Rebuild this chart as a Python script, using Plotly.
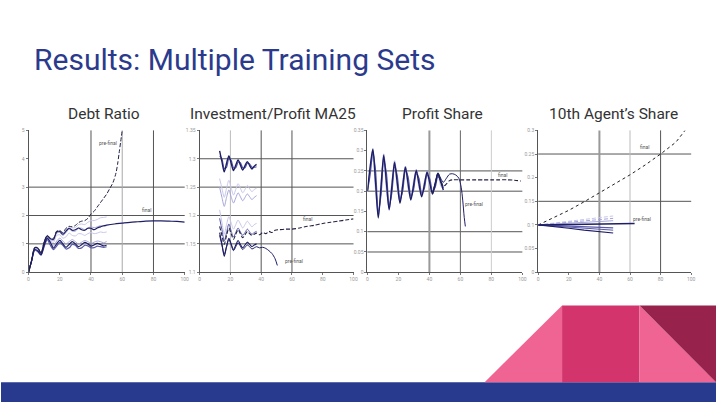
import plotly.graph_objects as go

W, H = 720, 405


def px(x):
    return x / W


def py(y):
    return 1 - y / H


# ---------------- DATA ----------------
titles = ["Debt Ratio", "Investment/Profit MA25", "Profit Share", "10th Agent’s Share"]

# Chart 1: Debt Ratio
db_x = [0, 2, 4, 6, 8, 10, 12, 14, 16, 18, 20, 22, 24, 26, 28, 30, 32, 34, 36, 38, 40, 42, 44, 46, 48, 50]
db_l1 = [0, 0.4, 0.85, 0.84, 0.67, 1.04, 1.27, 1.18, 1.18, 1.42, 1.45, 1.38, 1.5, 1.6, 1.56, 1.58, 1.68, 1.7, 1.68, 1.76, 1.82, 1.82, 1.86, 1.92, 1.93, 1.95]
db_l2 = [0, 0.4, 0.84, 0.82, 0.66, 1.02, 1.26, 1.15, 1.12, 1.38, 1.4, 1.3, 1.4, 1.52, 1.45, 1.45, 1.55, 1.55, 1.5, 1.56, 1.6, 1.57, 1.6, 1.64, 1.62, 1.64]
db_l3 = [0, 0.4, 0.82, 0.8, 0.64, 1.0, 1.24, 1.12, 1.05, 1.3, 1.32, 1.2, 1.25, 1.38, 1.3, 1.28, 1.36, 1.35, 1.3, 1.36, 1.4, 1.36, 1.38, 1.42, 1.4, 1.42]
db_l4 = [0, 0.4, 0.8, 0.78, 0.62, 0.98, 1.22, 1.08, 0.92, 1.1, 1.2, 1.1, 1.0, 1.08, 1.15, 1.08, 1.0, 1.06, 1.12, 1.08, 1.02, 1.06, 1.1, 1.08, 1.04, 1.08]
db_l5 = [0, 0.4, 0.8, 0.75, 0.62, 0.95, 1.2, 1.05, 0.85, 1.0, 1.12, 1.0, 0.88, 0.98, 1.08, 1.0, 0.9, 0.97, 1.05, 1.0, 0.92, 0.96, 1.02, 0.98, 0.93, 0.95]
db_l6 = [0, 0.4, 0.78, 0.72, 0.6, 0.9, 1.15, 0.95, 0.8, 0.92, 1.05, 0.95, 0.82, 0.86, 0.98, 0.95, 0.84, 0.86, 0.95, 0.93, 0.86, 0.87, 0.92, 0.9, 0.88, 0.9]
db_fin_x = db_x + [55, 60, 65, 70, 75, 80, 85, 90, 95, 100]
db_fin = [0, 0.42, 0.86, 0.85, 0.66, 1.05, 1.28, 1.18, 1.16, 1.42, 1.44, 1.34, 1.45, 1.55, 1.48, 1.5, 1.56, 1.5, 1.48, 1.55, 1.55, 1.5, 1.56, 1.6, 1.64, 1.66,
          1.7, 1.73, 1.76, 1.78, 1.8, 1.81, 1.81, 1.8, 1.79, 1.77]
db_pre_x = db_x + [52, 54, 56, 57, 58, 59, 60]
db_pre = [0, 0.42, 0.87, 0.86, 0.68, 1.06, 1.3, 1.2, 1.2, 1.45, 1.47, 1.4, 1.55, 1.62, 1.6, 1.65, 1.75, 1.8, 1.82, 1.9, 2.05, 2.15, 2.3, 2.45, 2.6, 2.75,
          2.95, 3.15, 3.5, 3.8, 4.2, 4.6, 5.0]
db_yticks = [0, 1, 2, 3, 4, 5]

# Chart 2: Investment/Profit MA25
ip_x = [13, 14.5, 16, 17.5, 19, 20.5, 22, 23.5, 25, 26.5, 28, 29.5, 31, 32.5, 34, 35.5, 37]
ip_t1 = [1.314, 1.295, 1.277, 1.292, 1.305, 1.292, 1.279, 1.289, 1.298, 1.289, 1.280, 1.288, 1.295, 1.288, 1.282, 1.287, 1.290]
ip_t2 = [1.305, 1.300, 1.283, 1.285, 1.300, 1.297, 1.284, 1.284, 1.294, 1.293, 1.284, 1.284, 1.292, 1.291, 1.285, 1.285, 1.286]
ip_m1 = [1.265, 1.248, 1.232, 1.248, 1.262, 1.249, 1.236, 1.246, 1.256, 1.248, 1.240, 1.246, 1.253, 1.247, 1.242, 1.246, 1.248]
ip_m2 = [1.250, 1.232, 1.216, 1.232, 1.245, 1.233, 1.222, 1.231, 1.240, 1.233, 1.226, 1.232, 1.238, 1.233, 1.228, 1.232, 1.235]
ip_la = [1.210, 1.188, 1.167, 1.184, 1.198, 1.187, 1.176, 1.184, 1.192, 1.185, 1.178, 1.184, 1.190, 1.185, 1.180, 1.184, 1.186]
ip_lb = [1.195, 1.175, 1.155, 1.170, 1.185, 1.173, 1.162, 1.170, 1.178, 1.171, 1.165, 1.170, 1.176, 1.171, 1.167, 1.170, 1.172]
ip_lc = [1.170, 1.150, 1.128, 1.145, 1.160, 1.150, 1.140, 1.148, 1.156, 1.149, 1.143, 1.148, 1.153, 1.149, 1.145, 1.148, 1.150]
ip_fin_x = ip_x + [39, 41, 43, 45, 47, 49, 52, 56, 60, 65, 70, 75, 80, 85, 90, 95, 100]
ip_fin = [1.181, 1.165, 1.149, 1.165, 1.178, 1.168, 1.158, 1.167, 1.175, 1.168, 1.161, 1.166, 1.172, 1.168, 1.165, 1.167, 1.169,
          1.166, 1.170, 1.168, 1.172, 1.170, 1.174, 1.175, 1.176, 1.176, 1.178, 1.181, 1.183, 1.186, 1.188, 1.190, 1.192, 1.194]
ip_pre_x = ip_x + [39, 41, 43, 45, 47, 49, 50.5]
ip_pre = [1.165, 1.148, 1.132, 1.145, 1.158, 1.148, 1.138, 1.145, 1.152, 1.146, 1.140, 1.144, 1.148, 1.145, 1.141, 1.143, 1.145,
          1.143, 1.144, 1.142, 1.138, 1.133, 1.124, 1.112]
ip_yticks = [1.1, 1.15, 1.2, 1.25, 1.3, 1.35]

# Chart 3: Profit Share
ps_x = [0, 1.75, 3.5, 5.25, 7, 8.75, 10.5, 12.25, 14, 15.75, 17.5, 19.25, 21, 22.75, 24.5, 26.25, 28, 29.75, 31.5, 33.25, 35, 36.75, 38.5, 40.25, 42, 43.75, 45.5, 47.25, 49]
ps_p1 = [0.2, 0.26, 0.304, 0.22, 0.134, 0.21, 0.288, 0.221, 0.154, 0.212, 0.271, 0.22, 0.170, 0.214, 0.259, 0.218, 0.178, 0.214, 0.251, 0.218, 0.186, 0.216, 0.247, 0.22, 0.193, 0.218, 0.243, 0.223, 0.203]
ps_p2 = [0.2, 0.24, 0.295, 0.25, 0.15, 0.19, 0.275, 0.245, 0.165, 0.195, 0.26, 0.238, 0.18, 0.2, 0.25, 0.235, 0.188, 0.203, 0.243, 0.232, 0.195, 0.207, 0.24, 0.23, 0.2, 0.21, 0.236, 0.228, 0.208]
ps_p3 = [0.2, 0.25, 0.285, 0.2, 0.145, 0.225, 0.28, 0.2, 0.16, 0.225, 0.265, 0.205, 0.175, 0.225, 0.255, 0.205, 0.183, 0.225, 0.248, 0.208, 0.19, 0.225, 0.244, 0.21, 0.197, 0.225, 0.24, 0.213, 0.205]
ps_p4 = [0.2, 0.255, 0.3, 0.235, 0.14, 0.2, 0.292, 0.235, 0.158, 0.2, 0.275, 0.232, 0.175, 0.205, 0.262, 0.23, 0.183, 0.207, 0.254, 0.228, 0.19, 0.21, 0.25, 0.228, 0.197, 0.212, 0.246, 0.228, 0.207]
ps_fin_x = [42, 43.75, 45.5, 47.25, 49, 51, 53, 55, 60, 65, 70, 75, 80, 85, 90, 95, 99]
ps_fin = [0.193, 0.218, 0.243, 0.226, 0.212, 0.218, 0.226, 0.228, 0.228, 0.228, 0.228, 0.228, 0.228, 0.228, 0.228, 0.227, 0.225]
ps_pre_x = [42, 43.75, 45.5, 47.25, 49, 51, 53, 55, 57, 59, 60.5, 61.5, 62.5, 63.2]
ps_pre = [0.195, 0.22, 0.245, 0.232, 0.222, 0.232, 0.242, 0.243, 0.24, 0.232, 0.21, 0.178, 0.135, 0.113]
ps_yticks = [0, 0.05, 0.1, 0.15, 0.2, 0.25, 0.3, 0.35]

# Chart 4: 10th Agent's Share
ag_x = [0, 10, 20, 30, 40, 49]
ag_q1 = [0.1, 0.104, 0.108, 0.112, 0.116, 0.119]
ag_q2 = [0.1, 0.103, 0.106, 0.109, 0.112, 0.114]
ag_q3 = [0.1, 0.102, 0.104, 0.106, 0.108, 0.109]
ag_q4 = [0.1, 0.099, 0.098, 0.096, 0.095, 0.094]
ag_q5 = [0.1, 0.097, 0.093, 0.089, 0.086, 0.083]
ag_q6 = [0.1, 0.098, 0.096, 0.094, 0.091, 0.089]
ag_pre_x = [0, 10, 20, 30, 40, 50, 63]
ag_pre = [0.1, 0.1005, 0.101, 0.1015, 0.102, 0.1025, 0.103]
ag_fin_x = [0, 10, 20, 30, 40, 50, 60, 70, 80, 90, 96]
ag_fin = [0.1, 0.115, 0.131, 0.149, 0.168, 0.187, 0.206, 0.227, 0.25, 0.275, 0.3]
ag_yticks = [0, 0.05, 0.1, 0.15, 0.2, 0.25, 0.3]

x_ticks = [0, 20, 40, 60, 80, 100]

# ---------------- STYLE ----------------
NAVY = "#1e1e66"
MID = "#5a5aaa"
LIGHT = "#a4a4d8"
PALE = "#c6c6ea"
BLUE = "#283a8e"

fig = go.Figure()


def add(x, y, ax, color, width=1.0, dash=None, spline=True):
    fig.add_trace(go.Scatter(
        x=x, y=y, mode="lines", xaxis="x" + ax, yaxis="y" + ax,
        line=dict(color=color, width=width, dash=dash,
                  shape="spline" if spline else "linear", smoothing=0.8),
        hoverinfo="skip", showlegend=False))


# chart 1
add(db_x, db_l1, "", PALE)
add(db_x, db_l2, "", LIGHT)
add(db_x, db_l3, "", PALE)
add(db_x, db_l4, "", LIGHT)
add(db_x, db_l6, "", MID, 1.2)
add(db_x, db_l5, "", NAVY, 1.2)
add(db_fin_x, db_fin, "", NAVY, 1.2)
add(db_pre_x, db_pre, "", "#222244", 1.0, "4px,2px")

# chart 2
add(ip_x, ip_m1, "2", PALE)
add(ip_x, ip_m2, "2", LIGHT)
add(ip_x, ip_la, "2", PALE)
add(ip_x, ip_lb, "2", MID)
add(ip_x, ip_t2, "2", MID, 1.2)
add(ip_x, ip_t1, "2", NAVY, 1.4)
add(ip_x, ip_lc, "2", NAVY, 1.1)
add(ip_fin_x, ip_fin, "2", "#222244", 1.1, "4px,2px")
add(ip_pre_x, ip_pre, "2", NAVY, 1.0)

# chart 3
add(ps_x, ps_p3, "3", PALE)
add(ps_x, ps_p4, "3", LIGHT)
add(ps_x, ps_p2, "3", MID, 1.2)
add(ps_x, ps_p1, "3", NAVY, 1.4)
add(ps_fin_x, ps_fin, "3", "#222244", 1.1, "4px,2px")
add(ps_pre_x, ps_pre, "3", NAVY, 1.0)

# chart 4
add(ag_fin_x, ag_fin, "4", "#222222", 1.0, "dot", False)
add(ag_x, ag_q1, "4", PALE, 1.0, "4px,2px", False)
add(ag_x, ag_q2, "4", LIGHT, 1.0, "4px,2px", False)
add(ag_x, ag_q3, "4", LIGHT, 1.0, None, False)
add(ag_x, ag_q6, "4", MID, 1.0, None, False)
add(ag_x, ag_q4, "4", MID, 1.2, None, False)
add(ag_x, ag_q5, "4", NAVY, 1.2, None, False)
add(ag_pre_x, ag_pre, "4", NAVY, 1.4, None, False)

# axes
x_dom = [(27.7, 185), (200, 355), (369, 525), (541, 695)]
y_dom = [py(273.3), py(129.3)]
yranges = [[0, 5], [1.1, 1.35], [0, 0.35], [0, 0.3]]
yticks = [db_yticks, ip_yticks, ps_yticks, ag_yticks]
tickfont = dict(family="Roboto", size=5, color="#9a9a9a")
layout = {}
for i in range(4):
    s = "" if i == 0 else str(i + 1)
    layout["xaxis" + s] = dict(
        domain=[px(x_dom[i][0]), px(x_dom[i][1])], range=[0, 100], anchor="y" + s,
        tickvals=x_ticks, showgrid=False, zeroline=False, showline=True,
        linecolor="#555", linewidth=1, ticks="outside", ticklen=2, tickcolor="#777",
        tickfont=tickfont, fixedrange=True)
    layout["yaxis" + s] = dict(
        domain=y_dom, range=yranges[i], anchor="x" + s,
        tickvals=yticks[i], showgrid=False, zeroline=False, showline=True,
        linecolor="#555", linewidth=1, ticks="outside", ticklen=2, tickcolor="#777",
        tickfont=tickfont, fixedrange=True)

# gridlines (value, color, width)
hgrid = [
    [(1, "#555", 1), (2, "#555", 1), (3, "#555", 1)],
    [(1.15, "#555", 1), (1.2, "#555", 1), (1.25, "#555", 1), (1.3, "#555", 1)],
    [(0.05, "#555", 1), (0.1, "#555", 1), (0.2, "#555", 1), (0.25, "#555", 1)],
    [(0.15, "#555", 1), (0.25, "#555", 1)],
]
vgrid = [
    [(40, "#555", 1), (60, "#aaa", 1), (80, "#555", 1)],
    [(20, "#bbb", 1), (40, "#555", 1), (60, "#555", 1)],
    [(40, "#999", 2), (60, "#666", 1), (80, "#ccc", 1)],
    [(40, "#999", 2), (60, "#bbb", 1), (80, "#555", 1)],
]
shapes = []
for i in range(4):
    s = "" if i == 0 else str(i + 1)
    for v, c, w in hgrid[i]:
        shapes.append(dict(type="line", xref="x" + s + " domain", yref="y" + s,
                           x0=0, x1=1, y0=v, y1=v, line=dict(color=c, width=w), layer="below"))
    for v, c, w in vgrid[i]:
        shapes.append(dict(type="line", xref="x" + s, yref="y" + s + " domain",
                           x0=v, x1=v, y0=0, y1=1, line=dict(color=c, width=w), layer="below"))

# decorative slide elements
top, bot, floor = py(307), py(385), 0
shapes += [
    dict(type="rect", xref="paper", yref="paper", x0=0, x1=1, y0=floor, y1=bot,
         fillcolor=BLUE, line=dict(width=0)),
    dict(type="path", xref="paper", yref="paper",
         path=f"M {px(487)},{bot} L {px(565)},{top} L {px(565)},{bot} Z",
         fillcolor="#ef6492", line=dict(width=0)),
    dict(type="rect", xref="paper", yref="paper", x0=px(565), x1=px(643), y0=bot, y1=top,
         fillcolor="#d2346b", line=dict(width=0)),
    dict(type="path", xref="paper", yref="paper",
         path=f"M {px(643)},{top} L {px(720)},{bot} L {px(643)},{bot} Z",
         fillcolor="#ef6492", line=dict(width=0)),
    dict(type="path", xref="paper", yref="paper",
         path=f"M {px(643)},{top} L {px(720)},{top} L {px(720)},{bot} Z",
         fillcolor="#97224b", line=dict(width=0)),
]

annotations = [
    dict(text="Results: Multiple Training Sets", xref="paper", yref="paper",
         x=px(31), y=py(57), xanchor="left", yanchor="middle", showarrow=False,
         font=dict(family="Roboto", size=30, color="#2b3a8c")),
]
sub_cx = [104, 274, 445, 617]
for t, cx in zip(titles, sub_cx):
    annotations.append(dict(text=t, xref="paper", yref="paper", x=px(cx), y=py(113),
                            xanchor="center", yanchor="middle", showarrow=False,
                            font=dict(family="Roboto", size=15.5, color="#333")))

small = dict(family="Roboto", size=5, color="#555")
labels = [
    ("", 51, 4.57, "pre-final"), ("", 75.6, 2.18, "final"),
    ("2", 70, 1.194, "final"), ("2", 61.3, 1.12, "pre-final"),
    ("3", 87, 0.241, "final"), ("3", 69, 0.169, "pre-final"),
    ("4", 69.7, 0.265, "final"), ("4", 68, 0.113, "pre-final"),
]
for s, x, y, t in labels:
    annotations.append(dict(text=t, xref="x" + s, yref="y" + s, x=x, y=y,
                            showarrow=False, font=small))

fig.update_layout(
    width=W, height=H, margin=dict(l=0, r=0, t=0, b=0),
    paper_bgcolor="white", plot_bgcolor="white",
    shapes=shapes, annotations=annotations, **layout)

page_css = (
    "var st=document.createElement('style');"
    "st.textContent='html,body{margin:0;padding:0;overflow:hidden;width:720px;height:405px;}';"
    "document.head.appendChild(st);"
)
fig.write_html("out.html", config={"displayModeBar": False, "staticPlot": True},
               post_script=page_css)
